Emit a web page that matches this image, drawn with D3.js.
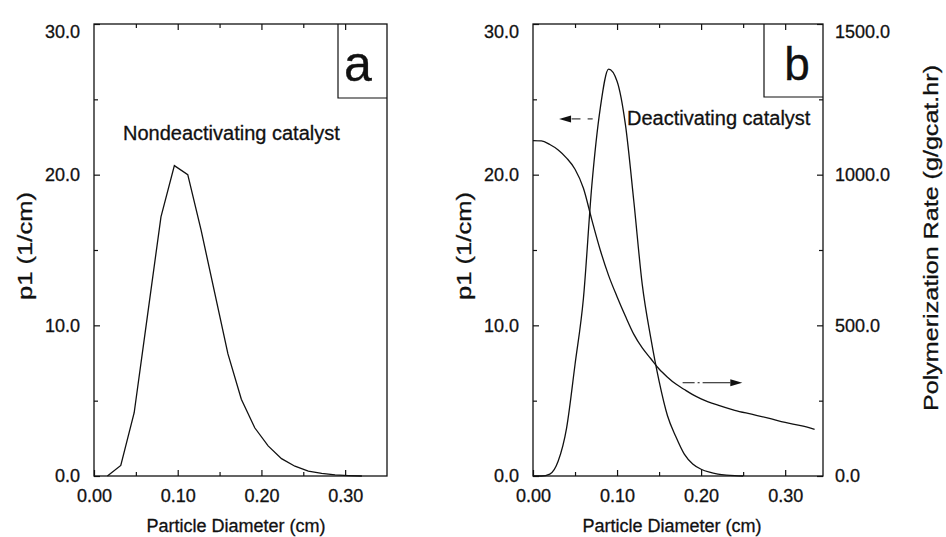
<!DOCTYPE html>
<html>
<head>
<meta charset="utf-8">
<script src="https://cdn.jsdelivr.net/npm/d3@7"></script>
<style>
  html, body { margin: 0; padding: 0; background: #fff; }
  svg { display: block; }
  text { font-family: "Liberation Sans", Arial, Helvetica, sans-serif; fill: #111;
         stroke: #111; stroke-width: 0.3px; }
</style>
</head>
<body>
<svg id="chart" width="946" height="537"></svg>
<script>
// Panel a: particle size density, nondeactivating catalyst
const diameterA = [0.016, 0.032, 0.048, 0.064, 0.080, 0.096, 0.112, 0.128, 0.144, 0.160,
                   0.176, 0.192, 0.208, 0.224, 0.240, 0.256, 0.272, 0.288, 0.304, 0.320];
const densityA  = [0.0, 0.7, 4.2, 10.7, 17.2, 20.6, 20.0, 16.3, 12.2, 8.1,
                   5.1, 3.2, 2.0, 1.15, 0.65, 0.33, 0.17, 0.07, 0.03, 0.0];

// Panel b: particle size density, deactivating catalyst
const diameterB = [0.00, 0.01, 0.02, 0.03, 0.04, 0.05, 0.06, 0.07, 0.08, 0.09, 0.10, 0.11, 0.12,
                   0.13, 0.14, 0.15, 0.16, 0.17, 0.18, 0.19, 0.20, 0.21, 0.22, 0.23, 0.24, 0.25];
const densityB  = [0.0, 0.0, 0.13, 1.0, 3.2, 7.4, 11.8, 19.3, 24.4, 27.0, 26.2, 23.3, 18.2,
                   12.7, 9.2, 6.3, 4.0, 2.6, 1.45, 0.8, 0.45, 0.25, 0.13, 0.06, 0.02, 0.0];

// Panel b: polymerization rate (right axis)
const rateDiameter = [0.00, 0.01, 0.02, 0.03, 0.04, 0.05, 0.06, 0.07, 0.08, 0.09, 0.10, 0.11,
                      0.12, 0.13, 0.14, 0.15, 0.16, 0.17, 0.18, 0.19, 0.20, 0.22, 0.24, 0.26,
                      0.28, 0.30, 0.32, 0.335];
const rateB        = [1113, 1112, 1100, 1082, 1055, 1018, 955, 850, 750, 665, 595, 530,
                      470, 425, 390, 355, 328, 305, 287, 270, 256, 235, 218, 205,
                      192, 178, 166, 155];

// Axis ticks
const xMajorTicks = [0.00, 0.10, 0.20, 0.30];
const xMinorTicks = [0.05, 0.15, 0.25];
const yMajorTicks = [0.0, 10.0, 20.0, 30.0];
const yMinorTicks = [5.0, 15.0, 25.0];
const rateMajorTicks = [0.0, 500.0, 1000.0, 1500.0];
const rateMinorTicks = [250.0, 750.0, 1250.0];

const svg = d3.select("#chart");
const TICK_FONT = 18;

function frame(g, x0, x1, y0, y1) {
  g.append("rect")
    .attr("x", x0).attr("y", y0)
    .attr("width", x1 - x0).attr("height", y1 - y0)
    .attr("fill", "none").attr("stroke", "#111").attr("stroke-width", 1.3);
}

function styleAxis(sel) {
  sel.select(".domain").remove();
  sel.selectAll("line").attr("stroke", "#111").attr("stroke-width", 1.2);
  sel.selectAll("text").attr("font-size", TICK_FONT).attr("fill", "#111")
    .style("font-family", '"Liberation Sans", Arial, sans-serif');
}

// the label at the very top of a vertical axis sits a little lower than its tick
function nudgeTop(sel, topValue) {
  sel.selectAll(".tick").filter(d => d === topValue).select("text").attr("dy", "0.75em");
}

function drawPanel(opts) {
  const { left, right, top, bottom, xMax } = opts;
  const x = d3.scaleLinear().domain([0, xMax]).range([left, right]);
  const y = d3.scaleLinear().domain([0, 30]).range([bottom, top]);
  const g = svg.append("g");

  // bottom axis with labels (ticks point inward)
  g.append("g").attr("transform", `translate(0,${bottom})`)
    .call(d3.axisBottom(x).tickValues(xMajorTicks).tickSize(-6).tickPadding(13)
      .tickFormat(d3.format(".2f")))
    .call(styleAxis);
  g.append("g").attr("transform", `translate(0,${bottom})`)
    .call(d3.axisBottom(x).tickValues(xMinorTicks).tickSize(-4).tickFormat(""))
    .call(styleAxis);
  // top frame ticks
  g.append("g").attr("transform", `translate(0,${top})`)
    .call(d3.axisTop(x).tickValues(xMajorTicks.slice(1)).tickSize(-6).tickFormat(""))
    .call(styleAxis);
  g.append("g").attr("transform", `translate(0,${top})`)
    .call(d3.axisTop(x).tickValues(xMinorTicks).tickSize(-4).tickFormat(""))
    .call(styleAxis);

  // left axis
  g.append("g").attr("transform", `translate(${left},0)`)
    .call(d3.axisLeft(y).tickValues(yMajorTicks).tickSize(-6).tickPadding(14)
      .tickFormat(d3.format(".1f")))
    .call(styleAxis)
    .call(nudgeTop, 30);
  g.append("g").attr("transform", `translate(${left},0)`)
    .call(d3.axisLeft(y).tickValues(yMinorTicks).tickSize(-4).tickFormat(""))
    .call(styleAxis);

  frame(g, left, right, top, bottom);

  // x axis title
  g.append("text")
    .attr("x", opts.xTitleX).attr("y", 532)
    .attr("text-anchor", "middle").attr("font-size", 18)
    .text("Particle Diameter (cm)");

  // y axis title
  g.append("text")
    .attr("transform", `translate(${opts.yTitleX},246) rotate(-90)`)
    .attr("text-anchor", "middle").attr("dominant-baseline", "central")
    .attr("font-size", 21)
    .attr("textLength", 108).attr("lengthAdjust", "spacingAndGlyphs")
    .text("p1 (1/cm)");

  // panel letter box
  g.append("path")
    .attr("d", `M${opts.boxLeft},${top} V${opts.boxBottom} H${right}`)
    .attr("fill", "none").attr("stroke", "#111").attr("stroke-width", 1.2);
  g.append("text")
    .attr("x", opts.letterX).attr("y", opts.boxBottom - 17)
    .attr("text-anchor", "middle").attr("font-size", opts.letterSize)
    .text(opts.letter);

  return { g, x, y };
}

// ---- Panel a ----
const pa = drawPanel({ left: 94, right: 387, top: 24, bottom: 476, xMax: 0.35,
  xTitleX: 236, yTitleX: 24, boxLeft: 338, boxBottom: 98, letter: "a",
  letterX: 358, letterSize: 50 });

pa.g.append("path")
  .datum(diameterA.map((d, i) => [d, densityA[i]]))
  .attr("fill", "none").attr("stroke", "#111").attr("stroke-width", 1.3)
  .attr("d", d3.line().x(d => pa.x(d[0])).y(d => pa.y(d[1])));

pa.g.append("text")
  .attr("x", 123).attr("y", 140).attr("font-size", 20)
  .text("Nondeactivating catalyst");

// ---- Panel b ----
const pb = drawPanel({ left: 533, right: 823, top: 24, bottom: 476, xMax: 0.345,
  xTitleX: 672, yTitleX: 463, boxLeft: 764, boxBottom: 97, letter: "b",
  letterX: 797, letterSize: 46 });

const yRate = d3.scaleLinear().domain([0, 1500]).range([476, 24]);
pb.g.append("g").attr("transform", "translate(823,0)")
  .call(d3.axisRight(yRate).tickValues(rateMajorTicks).tickSize(-6).tickPadding(12)
    .tickFormat(d3.format(".1f")))
  .call(styleAxis)
  .call(nudgeTop, 1500);
pb.g.append("g").attr("transform", "translate(823,0)")
  .call(d3.axisRight(yRate).tickValues(rateMinorTicks).tickSize(-4).tickFormat(""))
  .call(styleAxis);

pb.g.append("text")
  .attr("transform", "translate(930,238) rotate(-90)")
  .attr("text-anchor", "middle").attr("dominant-baseline", "central")
  .attr("font-size", 21)
  .attr("textLength", 346).attr("lengthAdjust", "spacingAndGlyphs")
  .text("Polymerization Rate (g/gcat.hr)");

pb.g.append("path")
  .datum(diameterB.map((d, i) => [d, densityB[i]]))
  .attr("fill", "none").attr("stroke", "#111").attr("stroke-width", 1.3)
  .attr("d", d3.line().curve(d3.curveMonotoneX).x(d => pb.x(d[0])).y(d => pb.y(d[1])));

pb.g.append("path")
  .datum(rateDiameter.map((d, i) => [d, rateB[i]]))
  .attr("fill", "none").attr("stroke", "#111").attr("stroke-width", 1.3)
  .attr("d", d3.line().curve(d3.curveMonotoneX).x(d => pb.x(d[0])).y(d => yRate(d[1])));

pb.g.append("text")
  .attr("x", 627).attr("y", 125).attr("font-size", 20)
  .text("Deactivating catalyst");

// arrows pointing to the axis each curve belongs to
function arrow(g, xTail, xTip, yPos, dir) {
  const headLen = 12, half = 3.5;
  const xBase = xTip - dir * headLen;
  g.append("line")
    .attr("x1", xTail).attr("x2", xBase).attr("y1", yPos).attr("y2", yPos)
    .attr("stroke", "#111").attr("stroke-width", 1)
    .attr("stroke-dasharray", dir > 0 ? "12,3,2,3,40" : "40");
  g.append("path")
    .attr("d", `M${xTip},${yPos} L${xBase},${yPos - half} L${xBase},${yPos + half} Z`)
    .attr("fill", "#111");
}
// left arrow: dash-dot tail, solid head
const laY = pb.y(23.7);
pb.g.append("line")
  .attr("x1", pb.x(0.071)).attr("x2", pb.x(0.065)).attr("y1", laY).attr("y2", laY)
  .attr("stroke", "#111").attr("stroke-width", 1);
pb.g.append("line")
  .attr("x1", pb.x(0.0565)).attr("x2", pb.x(0.046)).attr("y1", laY).attr("y2", laY)
  .attr("stroke", "#111").attr("stroke-width", 1);
arrow(pb.g, pb.x(0.044), pb.x(0.031), laY, -1);

// right arrow
const raY = pb.y(6.19);
arrow(pb.g, pb.x(0.178), pb.x(0.249), raY, 1);
</script>
</body>
</html>
